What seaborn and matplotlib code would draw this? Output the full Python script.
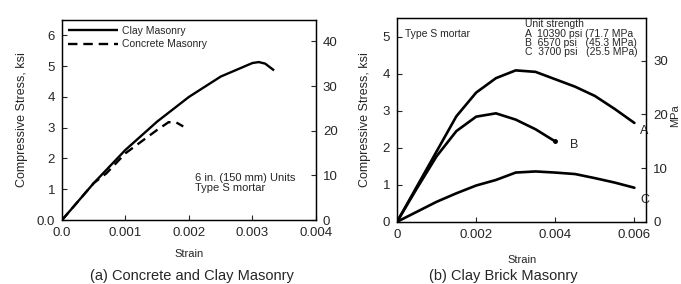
import numpy as np
import pandas as pd
import matplotlib.pyplot as plt
import seaborn as sns
from matplotlib.ticker import FixedLocator, FixedFormatter

# (a) Concrete and clay masonry
clay_strain = [0.0, 0.0005, 0.001, 0.0015, 0.002, 0.0025, 0.003, 0.0031, 0.0032, 0.00334]
clay_stress = [0.0, 1.2, 2.28, 3.2, 4.0, 4.66, 5.1, 5.13, 5.08, 4.86]
conc_strain = [0.0, 0.0005, 0.0007, 0.001, 0.0015, 0.00168, 0.0018, 0.00191]
conc_stress = [0.0, 1.2, 1.52, 2.17, 2.93, 3.18, 3.17, 3.04]

# (b) Clay brick masonry, unit strength A/B/C
b_strain = [0.0, 0.0005, 0.001, 0.0015, 0.002, 0.0025, 0.003, 0.0035, 0.004, 0.0045, 0.005, 0.0055, 0.006]
a_stress = [0.0, 0.95, 1.9, 2.85, 3.49, 3.88, 4.09, 4.05, 3.85, 3.65, 3.4, 3.05, 2.67]
b_stress = [0.0, 0.9, 1.77, 2.45, 2.84, 2.93, 2.76, 2.5, 2.17]
c_stress = [0.0, 0.27, 0.54, 0.77, 0.98, 1.13, 1.33, 1.36, 1.33, 1.29, 1.18, 1.06, 0.92]

KSI_TO_MPA = 6.895

sns.set_style("ticks")
plt.rcParams['font.family'] = ['Liberation Sans', 'DejaVu Sans']
plt.rcParams['font.size'] = 8

fig = plt.figure(figsize=(6.81, 2.84), dpi=100)
ax1 = fig.add_axes([0.091, 0.225, 0.373, 0.705])
ax2 = fig.add_axes([0.583, 0.219, 0.366, 0.717])

df_a = pd.concat([
    pd.DataFrame({'strain': clay_strain, 'stress': clay_stress, 'type': 'Clay Masonry'}),
    pd.DataFrame({'strain': conc_strain, 'stress': conc_stress, 'type': 'Concrete Masonry'}),
])
sns.lineplot(data=df_a, x='strain', y='stress', hue='type', style='type',
             palette=['black', 'black'], dashes=[(1, 0), (4, 2.5)], linewidth=1.7,
             sort=False, ax=ax1, hue_order=['Concrete Masonry', 'Clay Masonry'])
h, l = ax1.get_legend_handles_labels()
ax1.legend(h[::-1], l[::-1], loc='upper left', frameon=False, fontsize=7.5,
           handlelength=4.8, borderaxespad=0.2, labelspacing=0.3, handletextpad=0.4)

ax1.set_xlim(0, 0.004)
ax1.set_ylim(0, 6.5)
ax1.xaxis.set_major_locator(FixedLocator([0, 0.001, 0.002, 0.003, 0.004]))
ax1.xaxis.set_major_formatter(FixedFormatter(['0.0', '0.001', '0.002', '0.003', '0.004']))
ax1.yaxis.set_major_locator(FixedLocator([0, 1, 2, 3, 4, 5, 6]))
ax1.yaxis.set_major_formatter(FixedFormatter(['0.0', '1', '2', '3', '4', '5', '6']))
ax1.set_xlabel('Strain', fontsize=8, labelpad=7)
ax1.set_ylabel('Compressive Stress, ksi', fontsize=9, labelpad=6)
ax1.text(0.0021, 0.95, '6 in. (150 mm) Units\nType S mortar', fontsize=8, linespacing=1.0)
ax1r = ax1.twinx()
ax1r.set_ylim(0, 6.5 * KSI_TO_MPA)
ax1r.set_yticks([0, 10, 20, 30, 40])

df_b = pd.concat([
    pd.DataFrame({'strain': b_strain, 'stress': a_stress, 'unit': 'A'}),
    pd.DataFrame({'strain': b_strain[:len(b_stress)], 'stress': b_stress, 'unit': 'B'}),
    pd.DataFrame({'strain': b_strain, 'stress': c_stress, 'unit': 'C'}),
])
sns.lineplot(data=df_b, x='strain', y='stress', hue='unit',
             palette=['black'] * 3, linewidth=1.9, sort=False, ax=ax2, legend=False)
ax2.plot(b_strain[len(b_stress) - 1], b_stress[-1], 'o', color='black', ms=2.5)
ax2.text(0.00613, 2.45, 'A', fontsize=9, ha='left', va='center')
ax2.text(0.00438, 2.08, 'B', fontsize=9, ha='left', va='center')
ax2.text(0.00616, 0.59, 'C', fontsize=9, ha='left', va='center')
ax2.text(0.0002, 5.07, 'Type S mortar', fontsize=7.5, va='center')
ax2.text(0.00324, 5.47,
         'Unit strength\nA  10390 psi (71.7 MPa\nB  6570 psi   (45.3 MPa)\nC  3700 psi   (25.5 MPa)',
         fontsize=7.5, va='top', linespacing=0.92)

ax2.set_xlim(0, 0.0063)
ax2.set_ylim(0, 5.5)
ax2.xaxis.set_major_locator(FixedLocator([0, 0.002, 0.004, 0.006]))
ax2.xaxis.set_major_formatter(FixedFormatter(['0', '0.002', '0.004', '0.006']))
ax2.set_yticks([0, 1, 2, 3, 4, 5])
ax2.set_xlabel('Strain', fontsize=8, labelpad=10)
ax2.set_ylabel('Compressive Stress, ksi', fontsize=9, labelpad=8)
ax2r = ax2.twinx()
ax2r.set_ylim(0, 5.5 * KSI_TO_MPA)
ax2r.set_yticks([0, 10, 20, 30])
ax2r.set_ylabel('MPa', fontsize=8)
ax2r.yaxis.set_label_coords(1.094, 0.52)

for ax in (ax1, ax2, ax1r, ax2r):
    ax.tick_params(direction='in', length=3.5, width=0.8, labelsize=9.5, pad=5)
    for s in ax.spines.values():
        s.set_linewidth(0.9)
        s.set_color('black')

fig.text(0.282, 0.005, '(a) Concrete and Clay Masonry', ha='center', va='bottom', fontsize=10.5)
fig.text(0.739, 0.005, '(b) Clay Brick Masonry', ha='center', va='bottom', fontsize=10.5)

fig.savefig('out.png', dpi=100)
